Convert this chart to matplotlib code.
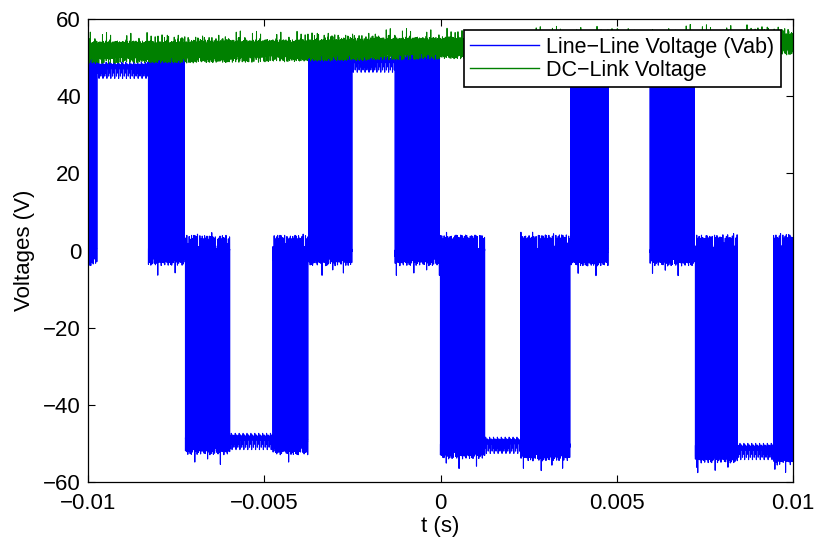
import numpy as np
import matplotlib
matplotlib.use('Agg')
import matplotlib.pyplot as plt

plt.rcParams['font.family'] = ['Liberation Sans', 'DejaVu Sans']
plt.rcParams['path.simplify'] = False

# Time window and switching details
T_START, T_END = -0.01, 0.01
T_STEP = 0.5e-6
F_SW = 30000.0

# Sectors of the line-line voltage: end time, level (V), duty at sector start/end
zone_end = [-0.009745, -0.008298, -0.007248, -0.005972, -0.004752, -0.003759,
            -0.002511, -0.001291, -0.000014, 0.001262, 0.002255, 0.003674,
            0.004752, 0.005943, 0.007220, 0.008440, 0.009433, 0.010001]
zone_level = [48.5, 47.6, 48.5, -49.0, -48.6, -49.0,
              49.0, 49.2, 49.0, -50.0, -49.6, -50.5,
              50.0, 50.0, 50.0, -51.0, -51.2, -51.5]
zone_duty_start = [0.6, 1.0, 0.9, 0.1, 1.0, 0.9, 0.1, 1.0, 0.9, 0.1, 1.0, 0.9, 0.1, 1.0, 0.9, 0.1, 1.0, 0.9]
zone_duty_end = [0.95, 1.0, 0.1, 0.9, 1.0, 0.1, 0.9, 1.0, 0.1, 0.9, 1.0, 0.1, 0.9, 1.0, 0.1, 0.9, 1.0, 0.5]

# small ripple seen on the line-line trace (held for a few samples each)
vab_ripple = [0.3, -0.4, 0.5, -0.2, 0.4, -0.5, 0.1, 0.3, -0.3, 0.5, -2.4, 0.2, -0.1, 0.4,
              -0.4, 0.3, -0.2, 0.5, -0.4, 0.1, -1.6, 0.4, -0.3, 1.2, -0.1, 0.2, -0.5, 0.3,
              -0.3, 0.4, -3.0, 0.2, -0.4, 0.5, 0.1, -0.2, 0.8]
RIPPLE_HOLD = 6

# DC-link: mean per 1 ms window and the ripple band around it
DC_STEP = 5e-6
dc_mean = [51.4, 51.5, 51.5, 51.6, 51.7, 51.8, 52.0, 52.1, 52.3, 52.4,
           52.6, 52.7, 52.8, 53.0, 53.1, 53.2, 53.3, 53.4, 53.5, 53.6]
dc_ripple = [1.2, -2.1, 2.6, -0.8, 0.4, -2.9, 1.9, -1.4, 2.2, 0.1, -2.5, 1.5, -0.3, 2.8,
             -1.9, 0.7, -2.7, 2.0, -1.1, 1.3, -2.3, 2.4, -0.5, 0.9, -2.8, 1.7, -1.6, 2.5,
             -0.2, -2.2, 1.1, 2.7, -1.3, 0.5, -2.6, 1.8, -0.9]
dc_spikes = [0, 0, 0.8, 0, 0, 0, 1.6, 0, 0, 0.4, 0, 0, 0, 2.4, 0, 0, 0.9, 0, 0, 0, 1.2, 0, 0]


def build_vab():
    t = np.arange(T_START, T_END + T_STEP / 2, T_STEP)
    ends = np.array(zone_end)
    starts = np.concatenate([[T_START], ends[:-1]])
    idx = np.clip(np.searchsorted(ends, t, side='right'), 0, len(ends) - 1)
    frac = (t - starts[idx]) / (ends[idx] - starts[idx])
    d0 = np.array(zone_duty_start)[idx]
    d1 = np.array(zone_duty_end)[idx]
    duty = d0 + (d1 - d0) * frac
    phase = ((t - T_START) * F_SW) % 1.0
    carrier = 1 - 2 * np.abs(phase - 0.5)
    v = np.where(carrier < duty, np.array(zone_level)[idx], 0.0)
    # ringing on each edge
    dv = np.diff(v, prepend=v[0])
    v = v + 0.07 * dv
    ripple = np.repeat(vab_ripple, RIPPLE_HOLD)
    v = v + np.resize(ripple, len(v))
    return t, v


def build_dc():
    t = np.arange(T_START, T_END + DC_STEP / 2, DC_STEP)
    idx = np.clip(((t - T_START) / 0.001).astype(int), 0, len(dc_mean) - 1)
    v = np.array(dc_mean)[idx] + np.resize(dc_ripple, len(t)) + np.resize(dc_spikes, len(t))
    return t, v


t_ab, v_ab = build_vab()
t_dc, v_dc = build_dc()

fig = plt.figure(figsize=(8.15, 5.4), dpi=100)
ax = fig.add_axes([0.108, 0.1074, 0.865, 0.8574])

ax.plot(t_ab, v_ab, color='#0000ff', linewidth=0.8, label='Line\u2212Line Voltage (Vab)')
ax.plot(t_dc, v_dc, color='#008000', linewidth=0.7, label='DC\u2212Link Voltage')

ax.set_xlim(-0.01, 0.01)
ax.set_ylim(-60, 60)
ax.set_xticks([-0.01, -0.005, 0, 0.005, 0.01])
ax.set_xticklabels(['\u22120.01', '\u22120.005', '0', '0.005', '0.01'])
ax.set_yticks(np.arange(-60, 61, 20))
ax.set_yticklabels(['\u221260', '\u221240', '\u221220', '0', '20', '40', '60'])
ax.tick_params(direction='in', top=True, right=True, length=5, width=0.8, labelsize=16)
ax.tick_params(axis='x', pad=8)
ax.tick_params(axis='y', pad=5)
for s in ax.spines.values():
    s.set_linewidth(0.9)

ax.set_xlabel('t (s)', fontsize=16, labelpad=1)
ax.set_ylabel('Voltages (V)', fontsize=16, labelpad=6)

leg = ax.legend(loc='upper right', bbox_to_anchor=(0.983, 0.976), fontsize=15.5,
                frameon=True, fancybox=False, framealpha=1, edgecolor='black',
                handlelength=3.2, handletextpad=0.35, labelspacing=0.1,
                borderpad=0.3, borderaxespad=0)
leg.get_frame().set_linewidth(1.2)
for line in leg.get_lines():
    line.set_linewidth(1.0)

fig.savefig('out.png', dpi=100)
